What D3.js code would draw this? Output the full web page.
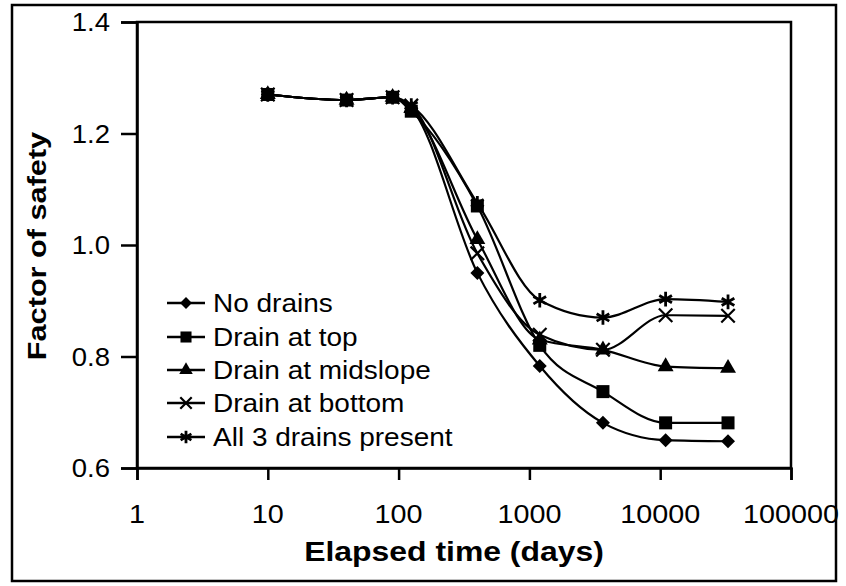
<!DOCTYPE html>
<html><head><meta charset="utf-8">
<script src="https://cdn.jsdelivr.net/npm/d3@7"></script>
<style>
html,body{margin:0;padding:0;background:#fff;}
svg{display:block;font-family:"Liberation Sans",Arial,Helvetica,sans-serif;}
</style></head>
<body>
<svg id="chart" width="846" height="586"></svg>
<script>
// ---- data ----
const times = [10, 40, 90, 125, 400, 1200, 3650, 11000, 33000];
const noDrains    = [1.27, 1.26, 1.265, 1.245, 0.950, 0.783, 0.681, 0.650, 0.648];
const drainTop    = [1.27, 1.26, 1.265, 1.240, 1.070, 0.820, 0.737, 0.681, 0.681];
const drainMid    = [1.27, 1.26, 1.265, 1.245, 1.010, 0.830, 0.812, 0.782, 0.779];
const drainBottom = [1.27, 1.26, 1.265, 1.250, 0.985, 0.839, 0.812, 0.874, 0.873];
const allDrains   = [1.27, 1.26, 1.265, 1.250, 1.075, 0.901, 0.870, 0.903, 0.898];
const seriesNames = ["No drains", "Drain at top", "Drain at midslope", "Drain at bottom", "All 3 drains present"];
const markerTypes = ["diamond", "square", "triangle", "times", "asterisk"];
const xTicks = [1, 10, 100, 1000, 10000, 100000];
const yTicks = [0.6, 0.8, 1.0, 1.2, 1.4];
const xTitle = "Elapsed time (days)";
const yTitle = "Factor of safety";

const seriesValues = [noDrains, drainTop, drainMid, drainBottom, allDrains];

const svg = d3.select("#chart");
const L = 137, R = 791, T = 22, B = 468;
const x = d3.scaleLog().domain([1, 100000]).range([L, R]);
const y = d3.scaleLinear().domain([0.6, 1.4]).range([B, T]);

// outer border
svg.append("rect").attr("x", 12).attr("y", 5).attr("width", 824).attr("height", 576)
  .attr("fill", "none").attr("stroke", "#000").attr("stroke-width", 2.5);

// frame
svg.append("rect").attr("x", L).attr("y", T).attr("width", R - L).attr("height", B - T)
  .attr("fill", "none").attr("stroke", "#000").attr("stroke-width", 2.5);

// axes
const gx = svg.append("g").attr("transform", `translate(0,${B})`)
  .call(d3.axisBottom(x).tickValues(xTicks).tickSize(12).tickFormat(() => ""));
const gy = svg.append("g").attr("transform", `translate(${L},0)`)
  .call(d3.axisLeft(y).tickValues(yTicks).tickSize(16).tickFormat(() => ""));
[gx, gy].forEach(g => {
  g.select(".domain").attr("stroke", "#000").attr("stroke-width", 2.5);
  g.selectAll(".tick line").attr("stroke", "#000").attr("stroke-width", 2.5);
});

function stretchedText(txt, px, py, size, sx, anchor, weight, rot) {
  const t = svg.append("text")
    .attr("transform", `translate(${px},${py})` + (rot ? ` rotate(${rot})` : "") + ` scale(${sx},1)`)
    .attr("text-anchor", anchor)
    .attr("font-size", size)
    .attr("font-weight", weight || "normal")
    .attr("fill", "#000")
    .text(txt);
  return t;
}

// tick labels
xTicks.forEach(v => stretchedText(String(v), x(v), 523, 25, 1.15, "middle"));
yTicks.forEach(v => stretchedText(d3.format(".1f")(v), 110, y(v) + 9, 25, 1.1, "end"));

// axis titles
stretchedText(xTitle, (L + R) / 2 - 10, 561, 28, 1.14, "middle", "bold");
stretchedText(yTitle, 46, 246, 26, 1.18, "middle", "bold", -90);

// marker drawing
function drawMarker(g, type, cx, cy, s) {
  const k = s || 1;
  if (type === "diamond") {
    const r = 7 * k;
    g.append("path").attr("d", `M${cx},${cy - r}L${cx + r},${cy}L${cx},${cy + r}L${cx - r},${cy}Z`).attr("fill", "#000");
  } else if (type === "square") {
    const h = 6.5 * k;
    g.append("rect").attr("x", cx - h).attr("y", cy - h).attr("width", 2 * h).attr("height", 2 * h).attr("fill", "#000");
  } else if (type === "triangle") {
    g.append("path").attr("d", d3.symbol().type(d3.symbolTriangle).size(110 * k * k)()).attr("transform", `translate(${cx},${cy})`).attr("fill", "#000");
  } else if (type === "times") {
    g.append("path").attr("d", d3.symbol().type(d3.symbolTimes).size(120 * k * k)()).attr("transform", `translate(${cx},${cy})`)
      .attr("fill", "none").attr("stroke", "#000").attr("stroke-width", 2.2);
  } else if (type === "asterisk") {
    g.append("path").attr("d", d3.symbol().type(d3.symbolAsterisk).size(150 * k * k)()).attr("transform", `translate(${cx},${cy})`)
      .attr("fill", "none").attr("stroke", "#000").attr("stroke-width", 2.8);
  }
}

// lines
const line = d3.line().x(d => x(d.t)).y(d => y(d.v)).curve(d3.curveMonotoneX);
const plot = svg.append("g");
seriesValues.forEach((vals, i) => {
  const pts = times.map((t, j) => ({ t: t, v: vals[j] }));
  plot.append("path").datum(pts).attr("d", line)
    .attr("fill", "none").attr("stroke", "#000").attr("stroke-width", 2.2);
});
seriesValues.forEach((vals, i) => {
  times.forEach((t, j) => drawMarker(plot, markerTypes[i], x(t), y(vals[j])));
});

// legend
const leg = svg.append("g");
const legRows = [303, 337, 370, 403, 437];
seriesNames.forEach((name, i) => {
  const ry = legRows[i];
  leg.append("line").attr("x1", 167).attr("x2", 205).attr("y1", ry).attr("y2", ry)
    .attr("stroke", "#000").attr("stroke-width", 2.5);
  drawMarker(leg, markerTypes[i], 186, ry, 0.85);
  stretchedText(name, 213, ry + 9, 25, 1.12, "start");
});
</script>
</body></html>
